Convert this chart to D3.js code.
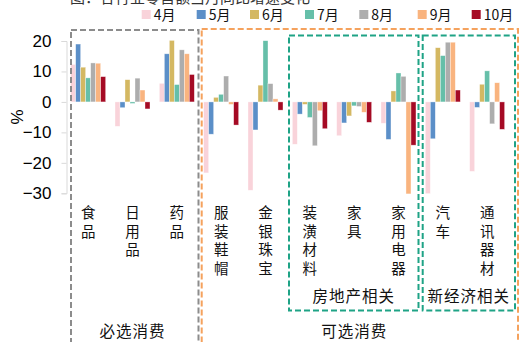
<!DOCTYPE html>
<html><head><meta charset="utf-8">
<script src="https://cdn.jsdelivr.net/npm/d3@7"></script>
<style>body{margin:0;background:#fff;}svg{display:block;}</style>
</head><body>
<svg id="c" width="521" height="342"></svg>
<script>
const categories = ["食品","日用品","药品","服装鞋帽","金银珠宝","装潢材料","家具","家用电器","汽车","通讯器材"];
const months = ["4月","5月","6月","7月","8月","9月","10月"];
const m4  = [12.3, -8.0,  6.1, -23.3, -29.0, -13.9, -11.1,  -7.0, -30.1, -22.8];
const m5  = [19.0, -1.9, 15.8, -10.6,  -9.2,  -4.0,  -6.9, -12.3, -12.1,  -1.8];
const m6  = [11.4,  7.3, 20.2,   1.5,   5.5,  -0.8,  -4.6,   3.6,  17.8,   5.8];
const m7  = [ 7.9, -0.5,  5.7,   2.5,  20.1,  -5.1,  -1.3,   9.5,  15.2,  10.2];
const m8  = [12.8,  7.8, 17.1,   8.5,   6.0, -14.4,  -1.5,   8.4,  19.6,  -7.2];
const m9  = [12.7,  3.9, 15.8,  -0.8,   1.0,  -2.9,  -3.4, -30.2,  19.6,   6.3];
const m10 = [ 8.3, -2.3,  9.0,  -7.6,  -2.7,  -8.8,  -6.7, -14.2,   3.9,  -9.0];
const series = [m4, m5, m6, m7, m8, m9, m10];
const colors = ["#F9D3DA","#5B8FC8","#D4B862","#66BFA9","#ADADAD","#F9B47F","#A50A24"];
const yTicks = [20, 10, 0, -10, -20, -30];
const groups = [
  {name:"必选消费", from:0, to:2, color:"#8C8C8C"},
  {name:"可选消费", from:3, to:9, color:"#F5A25D"}
];
const subgroups = [
  {name:"房地产相关", from:5, to:7},
  {name:"新经济相关", from:8, to:9}
];
const title = "图：各行业零售额当月同比增速变化";

const svg = d3.select("#c");
const cjk = "'Noto Sans CJK SC', 'Liberation Sans', sans-serif";
const num = "'Liberation Sans', Arial, sans-serif";

// cut-off title (clipped at the top edge as in the reference)
svg.append("text").attr("x", 70).attr("y", 3).attr("font-family", cjk)
  .attr("font-size", 15).attr("fill", "#333").text(title);

const x = d3.scaleBand().domain(categories).range([66, 509.3]).padding(0);
const xi = d3.scaleBand().domain(months).range([4.67, 39.67]).padding(0);
const y = d3.scaleLinear().domain([-30, 20]).range([193.3, 41]);

// y axis
const yAxis = d3.axisLeft(y).tickValues(yTicks).tickSize(5).tickFormat(d3.format("d"));
const ga = svg.append("g").attr("transform", "translate(66.5,0)").call(yAxis);
ga.select(".domain").attr("stroke", "#d9d9d9");
ga.selectAll(".tick line").attr("stroke", "#d9d9d9");
ga.selectAll(".tick text").attr("font-family", num).attr("font-size", 17).attr("fill", "#000").attr("x", -15);

svg.append("text").attr("transform", "translate(23,117) rotate(-90)")
  .attr("text-anchor", "middle").attr("font-family", num).attr("font-size", 17).text("%");

// bars
series.forEach((vals, si) => {
  svg.append("g").selectAll("rect").data(vals).join("rect")
    .attr("x", (d, i) => x(categories[i]) + xi(months[si]))
    .attr("width", xi.bandwidth())
    .attr("y", d => y(Math.max(0, d)))
    .attr("height", d => Math.abs(y(d) - y(0)))
    .attr("fill", colors[si])
    .attr("stroke", "rgba(255,255,255,0.6)").attr("stroke-width", 0.6);
});

// category labels (vertical)
categories.forEach(c => {
  const t = svg.append("text").attr("font-family", cjk).attr("font-size", 14.5)
    .attr("text-anchor", "middle").attr("fill", "#111");
  Array.from(c).forEach((ch, k) => {
    t.append("tspan").attr("x", x(c) + x.bandwidth() / 2).attr("y", 218 + k * 18.7).text(ch);
  });
});

// main group boxes
const gx0 = [71, 201.7], gx1 = [198.5, 518];
groups.forEach((g, i) => {
  svg.append("rect").attr("x", gx0[i]).attr("y", i === 0 ? 30 : 29)
    .attr("width", gx1[i] - gx0[i]).attr("height", 340)
    .attr("fill", "none").attr("stroke", g.color).attr("stroke-width", 2)
    .attr("stroke-dasharray", "6,3");
  svg.append("text").attr("x", (x(categories[g.from]) + x(categories[g.to]) + x.bandwidth()) / 2)
    .attr("y", 337).attr("text-anchor", "middle").attr("font-family", cjk)
    .attr("font-size", 15.5).attr("letter-spacing", 1).attr("fill", "#111").text(g.name);
});

// sub group boxes
const sx0 = [289, 422.7], sx1 = [418.5, 515];
subgroups.forEach((g, i) => {
  svg.append("rect").attr("x", sx0[i]).attr("y", 35.5)
    .attr("width", sx1[i] - sx0[i]).attr("height", 275)
    .attr("fill", "none").attr("stroke", "#1FA386").attr("stroke-width", 2)
    .attr("stroke-dasharray", "6,3");
  svg.append("text").attr("x", (sx0[i] + sx1[i]) / 2).attr("y", 302)
    .attr("text-anchor", "middle").attr("font-family", cjk)
    .attr("font-size", 15.5).attr("letter-spacing", 1).attr("fill", "#111").text(g.name);
});

// legend
const lx = [141.7, 196.7, 250, 305, 359.3, 417.7, 471.7];
months.forEach((m, i) => {
  svg.append("rect").attr("x", lx[i]).attr("y", 10).attr("width", 9).attr("height", 9).attr("fill", colors[i]);
  svg.append("text").attr("x", lx[i] + 12).attr("y", 20).attr("font-family", cjk)
    .attr("font-size", 14).attr("fill", "#111").text(m);
});
</script>
</body></html>
